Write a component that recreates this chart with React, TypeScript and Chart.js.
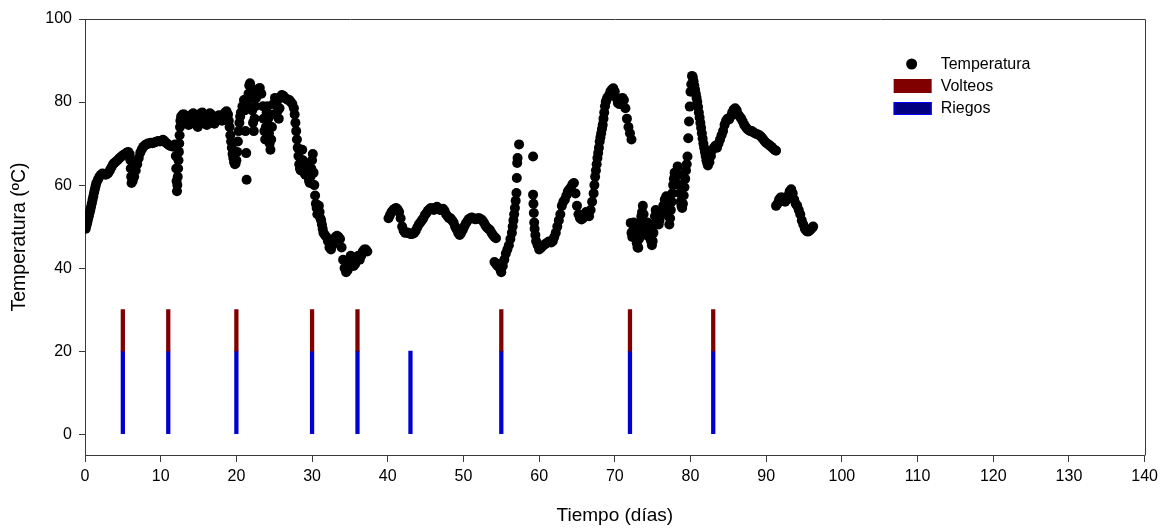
import { useEffect, useRef } from 'react';
import { Chart, registerables } from 'chart.js';

Chart.register(...registerables);

// Temperature readings, [day, °C], one array per continuous run
const tempSeg1: [number, number][] = [
  [0.1,49.5],[0.2,50.3],[0.3,51],[0.4,51.8],[0.5,52.5],[0.6,53.3],[0.7,54],[0.8,54.8],[0.9,55.6],[1.0,56.5],[1.1,57.3],[1.2,58.2],[1.3,59],[1.4,59.8],[1.5,60.5],[1.7,61.3],[1.9,62],[2.1,62.5],[2.3,62.8],[2.5,62.7],[2.7,62.5],[2.9,62.6],[3.1,63],[3.3,63.6],[3.5,64.3],[3.7,65],[3.9,65.4],[4.1,65.7],[4.3,66],[4.5,66.4],[4.7,66.7],[4.9,67],[5.1,67.3],[5.3,67.5],[5.5,67.8],[5.7,68],[5.9,67.5],[6.0,66],[6.05,64],[6.1,62],[6.15,60.5],[6.3,61],[6.5,62],[6.7,63.5],[6.9,65],[7.1,66.5],[7.3,67.8],[7.5,68.6],[7.7,69.2],[7.9,69.6],[8.1,69.8],[8.3,70],[8.5,70],[8.7,70.2],[8.9,70.1],[9.1,70.2],[9.3,70.4],[9.5,70.5],[9.7,70.6],[9.9,70.5],[10.1,70.6],[10.3,70.9],[10.5,70.6],[10.7,70.2],[10.9,69.9],[11.1,69.6],[11.3,69.4],[11.5,69.3],[11.7,69.3],[11.9,69.8],[12.0,67],[12.05,64],[12.1,61],[12.15,58.5],[12.2,60],[12.25,62],[12.3,64],[12.35,66],[12.4,68],[12.45,70],[12.5,72],[12.55,74],[12.6,75.5],[12.7,76.5],[12.9,77],[13.1,77],[13.3,76.5],[13.5,75.5],[13.7,74.5],[13.9,75.5],[14.1,77],[14.3,77.3],[14.5,76],[14.7,74.5],[14.9,74],[15.1,75.5],[15.3,77.3],[15.5,77.5],[15.7,76],[15.9,74.8],[16.1,74.5],[16.3,76],[16.5,77.3],[16.7,77],[16.9,75.5],[17.1,74.8],[17.3,75.5],[17.5,76.5],[17.7,76.8],[17.9,76],[18.1,75.5],[18.3,76.5],[18.5,77.5],[18.7,77.8],[18.9,77],[19.0,75.5],[19.1,74],[19.2,72],[19.3,70.5],[19.4,69],[19.5,67.5],[19.6,66.5],[19.7,65.5],[19.8,65],[19.9,65.2],[20.0,66],[20.1,68],[20.2,70.5],[20.3,73],[20.4,75],[20.5,76.5],[20.6,77.5],[20.8,79],[21.0,80.5],[21.1,78],[21.2,73],[21.3,67.7],[21.35,61.3],[21.5,79],[21.6,82],[21.7,84],[21.8,84.5],[21.9,83.5],[22.0,81],[22.1,78],[22.2,75],[22.3,73],[22.4,76],[22.5,79],[22.6,81],[22.7,82.5],[22.9,83.2],[23.1,83.4],[23.3,82],[23.5,79],[23.6,76],[23.7,73],[23.8,71],[23.9,74],[24.0,77.5],[24.1,79],[24.2,76],[24.3,72.5],[24.4,70],[24.5,68.5],[24.6,71],[24.7,74],[24.8,77],[24.9,79.5],[25.1,81],[25.3,80],[25.5,78],[25.6,76],[25.7,78.5],[25.8,81],[26.0,81.7],[26.2,81.5],[26.4,81],[26.6,80.8],[26.8,80.5],[27.0,80.5],[27.2,80],[27.4,79.5],[27.6,78.5],[27.7,77],[27.8,75],[27.9,73],[28.0,71],[28.1,69],[28.2,67],[28.3,65],[28.4,64],[28.5,63.5],[28.6,66],[28.7,68.5],[28.8,66],[28.9,64],[29.0,63],[29.1,62.5],[29.2,63.5],[29.3,64.5],[29.4,63],[29.5,62],[29.6,61],[29.7,60.5],[29.8,62],[29.9,64],[30.0,66],[30.1,67.5],[30.2,63],[30.3,60],[30.4,57.5],[30.5,55.5],[30.6,54.5],[30.7,53],[30.8,54.5],[30.9,55],[31.0,53.5],[31.1,52],[31.2,51.5],[31.3,50.5],[31.4,49.5],[31.5,48.5],[31.7,48],[31.9,47.5],[32.1,46.5],[32.3,45],[32.5,44.5],[32.7,45.5],[32.9,46.5],[33.1,47.5],[33.3,47.8],[33.5,47.5],[33.7,47],[33.9,45],[34.1,42],[34.3,40],[34.5,39],[34.7,39.5],[34.9,41],[35.1,43],[35.3,42],[35.5,40.5],[35.7,41],[35.9,42.5],[36.1,43],[36.3,42],[36.5,43],[36.7,44],[36.9,44.5],[37.1,44.5],[37.3,44],
];

const tempSeg2: [number, number][] = [
  [40.1,52],[40.3,52.8],[40.5,53.5],[40.7,54],[40.9,54.3],[41.1,54.5],[41.3,54.2],[41.5,53.5],[41.7,52],[41.9,50],[42.1,49],[42.3,48.5],[42.5,48.6],[42.7,48.5],[42.9,48.3],[43.1,48.2],[43.3,48.3],[43.5,48.5],[43.7,49],[43.9,49.8],[44.1,50.5],[44.3,51],[44.5,51.5],[44.7,52],[44.9,52.8],[45.1,53.2],[45.3,53.8],[45.5,54.2],[45.7,54.5],[45.9,54.3],[46.1,54],[46.3,54.5],[46.5,54.8],[46.7,54.3],[46.9,54],[47.1,54],[47.3,54.3],[47.5,53.8],[47.7,53],[47.9,52.5],[48.1,52],[48.3,52],[48.5,51.5],[48.7,51],[48.9,50],[49.1,49.3],[49.3,48.5],[49.5,48],[49.7,48.5],[49.9,49.2],[50.1,50],[50.3,50.7],[50.5,51.3],[50.7,51.8],[50.9,52],[51.1,52.2],[51.3,52],[51.5,51.8],[51.7,51.8],[51.9,52],[52.1,52],[52.3,51.8],[52.5,51.5],[52.7,51],[52.9,50.3],[53.1,49.8],[53.3,49.5],[53.5,49.2],[53.7,48.5],[53.9,48],[54.1,47.5],[54.3,47.2],
];

const tempSeg3: [number, number][] = [
  [54.1,41.5],[54.3,41],[54.5,40.5],[54.7,41],[54.9,39.5],[55.0,39],[55.2,40.5],[55.4,42],[55.6,43.5],[55.8,44.5],[56.0,45.5],[56.2,47],[56.4,48.5],[56.5,50],[56.6,51.5],[56.7,53],[56.8,54.5],[56.9,56.2],[57.0,58.1],[57.05,61.7],[57.1,65.3],[57.15,66.5],[57.35,69.8],[59.2,66.9],[59.2,57.7],[59.25,55.5],[59.3,53.3],[59.35,51],[59.4,49.5],[59.5,48],[59.6,46.5],[59.8,45.5],[60.0,44.5],[60.2,44.8],[60.4,45.2],[60.6,45.5],[60.8,45.8],[61.0,46],[61.2,46.3],[61.4,46.5],[61.6,46.2],[61.8,46.5],[62.0,47.5],[62.2,48.5],[62.4,50],[62.6,51.5],[62.8,53],[63.0,55],[63.2,56],[63.4,56.5],[63.6,57.5],[63.8,58.5],[64.0,59],[64.2,59.5],[64.4,60.2],[64.6,60.5],[64.8,58],[65.0,55],[65.2,53],[65.4,52],[65.6,51.7],[65.8,52],[66.0,53],[66.2,53.5],[66.4,53],[66.6,52.5],[66.8,54],[67.0,56],[67.2,58],[67.3,60],[67.4,62],[67.5,63.5],[67.6,65],[67.7,66.5],[67.8,67.7],[67.9,69],[68.0,70.5],[68.1,71.5],[68.2,72.5],[68.3,73.5],[68.4,74.5],[68.5,76],[68.6,77.5],[68.7,79],[68.8,80],[68.9,80.5],[69.0,81],[69.2,81.5],[69.4,82.5],[69.6,83],[69.8,83.3],[70.0,82.5],[70.2,81],[70.4,79.8],[70.6,79.5],[70.8,80.5],[71.0,81],[71.2,80.5],[71.4,78.5],[71.6,76],[71.8,74],[72.0,72.5],[72.2,71],
];

const tempSeg4: [number, number][] = [
  [72.1,50.9],[72.2,48.5],[72.3,47.5],[72.4,49],[72.5,51],[72.6,50],[72.7,48.5],[72.8,47],[72.9,46],[73.0,45],[73.1,44.9],[73.2,47],[73.3,49],[73.4,51],[73.5,52.5],[73.6,53.5],[73.7,55],[73.8,53],[73.9,51],[74.0,49],[74.1,48],[74.2,49.5],[74.3,51],[74.4,50],[74.5,48.5],[74.6,47.5],[74.7,47],[74.8,46.5],[74.9,45.5],[75.0,46.5],[75.1,48.5],[75.2,50.5],[75.3,52.5],[75.4,54],[75.5,53.5],[75.6,52],[75.7,51],[75.8,50.5],[75.9,51.5],[76.0,52.5],[76.2,53.5],[76.4,55],[76.6,56.5],[76.8,57.3],[77.0,55],[77.1,52.5],[77.2,50.5],[77.3,52],[77.4,54],[77.5,56],[77.6,58],[77.7,60],[77.8,61.5],[77.9,63],[78.0,62],[78.1,60.5],[78.2,62.5],[78.3,64.5],[78.4,62.5],[78.5,60],[78.6,58],[78.7,56],[78.8,55],[78.9,54.5],[79.0,55.5],[79.1,57.5],[79.2,59.5],[79.3,61.5],[79.4,63.5],[79.5,65],[79.6,66.9],[79.7,71.3],[79.8,75.3],[79.9,78.9],[80.0,82.5],[80.1,84.3],[80.2,86.3],[80.3,86],[80.4,85],[80.5,84],[80.6,83],[80.7,82],[80.8,81],[80.9,80],[81.0,78.8],[81.1,77.5],[81.2,76.3],[81.3,75],[81.4,73.8],[81.5,72.5],[81.6,71.2],[81.7,70],[81.8,69],[81.9,68],[82.0,67],[82.1,66],[82.2,65.3],[82.3,64.7],[82.5,65.5],[82.7,67],[82.9,68.5],[83.1,69],[83.3,69.5],[83.5,69],[83.7,70],[83.9,71],[84.1,72],[84.3,73],[84.5,74.5],[84.7,75.5],[84.9,76],[85.1,75.8],[85.3,76.5],[85.5,77.5],[85.7,78.2],[85.9,78.5],[86.1,78],[86.3,77],[86.5,76.5],[86.7,76],[86.9,75.3],[87.1,74.5],[87.3,74],[87.5,73.5],[87.7,73.2],[87.9,73],[88.1,73],[88.3,72.7],[88.5,72.5],[88.7,72.3],[88.9,72.2],[89.1,72],[89.3,71.7],[89.5,71.3],[89.7,70.8],[89.9,70.3],[90.1,70],[90.3,69.8],[90.5,69.5],[90.7,69.2],[90.9,68.8],[91.1,68.5],[91.3,68.3],
];

const tempSeg5: [number, number][] = [
  [91.3,55],[91.5,55.5],[91.7,56.5],[91.9,57],[92.1,57],[92.3,56.5],[92.5,56],[92.7,56.5],[92.9,57.5],[93.1,58.5],[93.3,59],[93.5,58],[93.7,56.5],[93.9,55.5],[94.1,55],[94.3,54],[94.5,53],[94.7,51.5],[94.9,50.5],[95.1,49.5],[95.3,49],[95.5,48.8],[95.7,49],[95.9,49.3],[96.1,49.8],[96.2,50],
];

// Events
const volteosDays = [5, 11, 20, 30, 36, 55, 72, 83];
const volteosRange: [number, number] = [20, 30];
const riegosDays = [5, 11, 20, 30, 36, 43, 55, 72, 83];
const riegosRange: [number, number] = [0, 20];

// Axes
const xMin = 0;
const xMax = 140;
const xStep = 10;
const yMin = -5;
const yMax = 100;
const yTickValues = [0, 20, 40, 60, 80, 100];

const seriesLabels = ['Temperatura', 'Volteos', 'Riegos'];
const xTitle = 'Tiempo (días)';
const yTitle = 'Temperatura (ºC)';

const FONT = 'Arial, "Liberation Sans", sans-serif';
const AXIS_COLOR = '#3a3a3a';

export default function App() {
  const ref = useRef<HTMLCanvasElement>(null);

  useEffect(() => {
    document.body.style.margin = '0';
    const canvas = ref.current;
    if (!canvas) return;

    const frame = {
      id: 'frame',
      afterDraw(chart: any) {
        const { ctx, chartArea: a } = chart;
        ctx.save();
        ctx.strokeStyle = AXIS_COLOR;
        ctx.lineWidth = 1;
        ctx.beginPath();
        ctx.moveTo(Math.round(a.left) + 0.5, Math.round(a.top) + 0.5);
        ctx.lineTo(Math.round(a.right) + 0.5, Math.round(a.top) + 0.5);
        ctx.lineTo(Math.round(a.right) + 0.5, Math.round(a.bottom) + 0.5);
        ctx.stroke();
        ctx.restore();
      },
    };

    const legend = {
      id: 'insideLegend',
      afterDraw(chart: any) {
        const { ctx, chartArea: a } = chart;
        const x0 = a.right - 251;
        const y0 = a.top + 45;
        ctx.save();
        ctx.fillStyle = '#000';
        ctx.beginPath();
        ctx.arc(x0 + 18, y0, 5.5, 0, Math.PI * 2);
        ctx.fill();
        ctx.fillStyle = '#800000';
        ctx.fillRect(x0, y0 + 15, 38, 14);
        ctx.fillStyle = '#000080';
        ctx.fillRect(x0, y0 + 38, 38, 13);
        ctx.strokeStyle = '#0000ff';
        ctx.lineWidth = 1;
        ctx.strokeRect(x0 + 0.5, y0 + 38.5, 37, 12);
        ctx.fillStyle = '#000';
        ctx.font = `16px ${FONT}`;
        ctx.textBaseline = 'middle';
        ctx.textAlign = 'left';
        ctx.fillText(seriesLabels[0], x0 + 47, y0 + 1);
        ctx.fillText(seriesLabels[1], x0 + 47, y0 + 23);
        ctx.fillText(seriesLabels[2], x0 + 47, y0 + 45);
        ctx.restore();
      },
    };

    const tempData = [...tempSeg1, ...tempSeg2, ...tempSeg3, ...tempSeg4, ...tempSeg5].map(([x, y]) => ({ x, y }));

    const chart = new Chart(canvas, {
      type: 'bar',
      data: {
        datasets: [
          {
            type: 'scatter',
            label: seriesLabels[0],
            data: tempData,
            pointRadius: 5,
            pointBackgroundColor: '#000',
            pointBorderWidth: 0,
            backgroundColor: '#000',
            borderColor: '#000',
          } as any,
          {
            type: 'bar',
            label: seriesLabels[1],
            data: volteosDays.map((d) => ({ x: d, y: volteosRange })),
            backgroundColor: '#800000',
            barThickness: 3.6,
            grouped: false,
          } as any,
          {
            type: 'bar',
            label: seriesLabels[2],
            data: riegosDays.map((d) => ({ x: d, y: riegosRange })),
            backgroundColor: '#0000d0',
            barThickness: 3.6,
            grouped: false,
          } as any,
        ],
      },
      options: {
        responsive: false,
        animation: false,
        devicePixelRatio: 1,
        layout: { padding: { top: 19, right: 18, left: 0, bottom: 0 } },
        plugins: {
          legend: { display: false },
          tooltip: { enabled: false },
        },
        scales: {
          x: {
            type: 'linear',
            min: xMin,
            max: xMax,
            offset: false,
            afterFit: (s: any) => { s.height = 73; },
            ticks: {
              stepSize: xStep,
              color: '#000',
              font: { size: 16, family: FONT },
              padding: 5,
              maxRotation: 0,
            },
            grid: {
              drawOnChartArea: false,
              drawTicks: true,
              tickLength: 7,
              color: AXIS_COLOR,
              offset: false,
            },
            border: { display: true, color: AXIS_COLOR, width: 1 },
            title: {
              display: true,
              text: xTitle,
              color: '#000',
              font: { size: 19, family: FONT },
              padding: { top: 0, bottom: 1 },
            },
          },
          y: {
            type: 'linear',
            min: yMin,
            max: yMax,
            afterFit: (s: any) => { s.width = 85; },
            afterBuildTicks: (s: any) => { s.ticks = yTickValues.map((v) => ({ value: v })); },
            ticks: {
              color: '#000',
              font: { size: 16, family: FONT },
              padding: 7,
            },
            grid: {
              drawOnChartArea: false,
              drawTicks: true,
              tickLength: 6,
              color: AXIS_COLOR,
            },
            border: { display: true, color: AXIS_COLOR, width: 1 },
            title: {
              display: true,
              text: yTitle,
              color: '#000',
              font: { size: 19.5, family: FONT },
              padding: { top: 8, bottom: 0 },
            },
          },
        },
      },
      plugins: [frame, legend],
    });

    return () => chart.destroy();
  }, []);

  return (
    <div style={{ width: 1163, height: 528 }}>
      <canvas ref={ref} width={1163} height={528} style={{ display: 'block' }} />
    </div>
  );
}
